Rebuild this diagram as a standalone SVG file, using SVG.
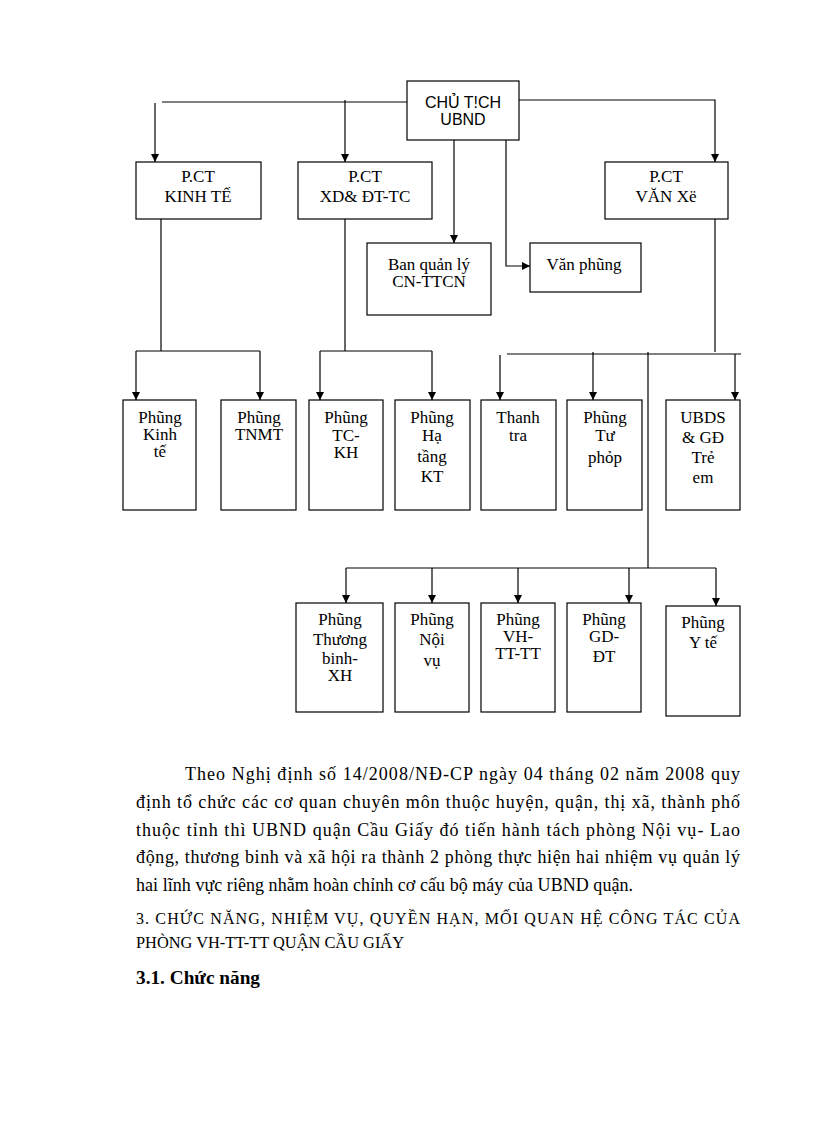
<svg xmlns="http://www.w3.org/2000/svg" width="816" height="1123" viewBox="0 0 816 1123">
<style>
.box{fill:#fff;stroke:#000;stroke-width:1.2}
.t{font-family:"Liberation Serif","Times New Roman",serif;font-size:17px;fill:#000;text-anchor:middle}
.s{font-family:"Liberation Sans",Arial,sans-serif;font-size:16px;fill:#000;text-anchor:middle}
.ln{stroke:#000;stroke-width:1.2;fill:none}
.p{font-family:"Liberation Serif","Times New Roman",serif;font-size:18px;fill:#000}
.h{font-family:"Liberation Serif","Times New Roman",serif;font-size:16px;fill:#000}
</style>
<defs>
<marker id="ar" viewBox="0 0 10 10" refX="10" refY="5" markerWidth="8" markerHeight="8" markerUnits="userSpaceOnUse" orient="auto">
<path d="M0,0 L10,5 L0,10 z" fill="#000"/>
</marker>
</defs>
<rect width="816" height="1123" fill="#fff"/>
<g id="connectors">
<path class="ln" d="M162,102 H407"/>
<path class="ln" d="M155,103 V162" marker-end="url(#ar)"/>
<path class="ln" d="M345,100 V162" marker-end="url(#ar)"/>
<path class="ln" d="M519,100 H715 V162" marker-end="url(#ar)"/>
<path class="ln" d="M454,140 V243" marker-end="url(#ar)"/>
<path class="ln" d="M506,140 V266 H530" marker-end="url(#ar)"/>
<path class="ln" d="M161,219 V351"/>
<path class="ln" d="M136,351 H260"/>
<path class="ln" d="M136,351 V400" marker-end="url(#ar)"/>
<path class="ln" d="M260,351 V400" marker-end="url(#ar)"/>
<path class="ln" d="M345,219 V351"/>
<path class="ln" d="M320,351 H432"/>
<path class="ln" d="M320,351 V400" marker-end="url(#ar)"/>
<path class="ln" d="M432,351 V400" marker-end="url(#ar)"/>
<path class="ln" d="M715,219 V352"/>
<path class="ln" d="M507,354 H741"/>
<path class="ln" d="M500,355 V400" marker-end="url(#ar)"/>
<path class="ln" d="M593,352 V400" marker-end="url(#ar)"/>
<path class="ln" d="M735,354 V400" marker-end="url(#ar)"/>
<path class="ln" d="M648,352 V568"/>
<path class="ln" d="M346,568 H716"/>
<path class="ln" d="M346,568 V603" marker-end="url(#ar)"/>
<path class="ln" d="M432,568 V603" marker-end="url(#ar)"/>
<path class="ln" d="M518,568 V603" marker-end="url(#ar)"/>
<path class="ln" d="M629,568 V603" marker-end="url(#ar)"/>
<path class="ln" d="M716,568 V606" marker-end="url(#ar)"/>
</g>
<g id="chutich"><rect class="box" x="407" y="81" width="112" height="59"/><text class="s" x="463" y="108">CHỦ T!CH</text><text class="s" x="463" y="125">UBND</text></g>
<g id="pct-kinhte"><rect class="box" x="136" y="162" width="125" height="57"/><text class="t" x="198" y="182">P.CT</text><text class="t" x="198" y="202">KINH TẾ</text></g>
<g id="pct-xd"><rect class="box" x="298" y="162" width="134" height="57"/><text class="t" x="365" y="182">P.CT</text><text class="t" x="365" y="202">XD&amp; ĐT-TC</text></g>
<g id="pct-vanxe"><rect class="box" x="605" y="162" width="123" height="57"/><text class="t" x="666" y="182">P.CT</text><text class="t" x="666" y="202">VĂN Xë</text></g>
<g id="banquanly"><rect class="box" x="367" y="243" width="124" height="72"/><text class="t" x="429" y="270">Ban quản lý</text><text class="t" x="429" y="287">CN-TTCN</text></g>
<g id="vanphung"><rect class="box" x="530" y="243" width="111" height="49"/><text class="t" x="584" y="270">Văn phũng</text></g>
<g id="kinhte"><rect class="box" x="123" y="400" width="73" height="110"/><text class="t" x="160" y="423">Phũng</text><text class="t" x="160" y="440">Kinh</text><text class="t" x="160" y="457">tế</text></g>
<g id="tnmt"><rect class="box" x="221" y="400" width="75" height="110"/><text class="t" x="259" y="423">Phũng</text><text class="t" x="259" y="440">TNMT</text></g>
<g id="tckh"><rect class="box" x="309" y="400" width="74" height="110"/><text class="t" x="346" y="423">Phũng</text><text class="t" x="346" y="441">TC-</text><text class="t" x="346" y="458">KH</text></g>
<g id="hatang"><rect class="box" x="395" y="400" width="75" height="110"/><text class="t" x="432" y="423">Phũng</text><text class="t" x="432" y="441">Hạ</text><text class="t" x="432" y="462">tầng</text><text class="t" x="432" y="482">KT</text></g>
<g id="thanhtra"><rect class="box" x="481" y="400" width="75" height="110"/><text class="t" x="518" y="423">Thanh</text><text class="t" x="518" y="441">tra</text></g>
<g id="tuphap"><rect class="box" x="567" y="400" width="75" height="110"/><text class="t" x="605" y="423">Phũng</text><text class="t" x="605" y="441">Tư</text><text class="t" x="605" y="463">phỏp</text></g>
<g id="ubds"><rect class="box" x="666" y="400" width="74" height="110"/><text class="t" x="703" y="423">UBDS</text><text class="t" x="703" y="443">&amp; GĐ</text><text class="t" x="703" y="463">Trẻ</text><text class="t" x="703" y="483">em</text></g>
<g id="thuongbinh"><rect class="box" x="296" y="603" width="87" height="109"/><text class="t" x="340" y="625">Phũng</text><text class="t" x="340" y="645">Thương</text><text class="t" x="340" y="664">binh-</text><text class="t" x="340" y="681">XH</text></g>
<g id="noivu"><rect class="box" x="395" y="603" width="74" height="109"/><text class="t" x="432" y="625">Phũng</text><text class="t" x="432" y="645">Nội</text><text class="t" x="432" y="666">vụ</text></g>
<g id="vhtttt"><rect class="box" x="481" y="603" width="74" height="109"/><text class="t" x="518" y="625">Phũng</text><text class="t" x="518" y="642">VH-</text><text class="t" x="518" y="659">TT-TT</text></g>
<g id="gddt"><rect class="box" x="567" y="603" width="74" height="109"/><text class="t" x="604" y="625">Phũng</text><text class="t" x="604" y="642">GD-</text><text class="t" x="604" y="662">ĐT</text></g>
<g id="yte"><rect class="box" x="666" y="606" width="74" height="110"/><text class="t" x="703" y="628">Phũng</text><text class="t" x="703" y="648">Y tế</text></g>
<g id="text">
<text class="p" x="185" y="780" textLength="555" lengthAdjust="spacing">Theo Nghị  định số 14/2008/NĐ-CP ngày 04 tháng 02  năm 2008 quy</text>
<text class="p" x="136" y="808" textLength="604" lengthAdjust="spacing">định tổ chức các cơ quan chuyên môn thuộc huyện, quận, thị xã, thành phố</text>
<text class="p" x="136" y="836" textLength="604" lengthAdjust="spacing">thuộc tỉnh thì  UBND quận Cầu Giấy đó tiến hành tách phòng Nội vụ- Lao</text>
<text class="p" x="136" y="863" textLength="604" lengthAdjust="spacing">động, thương binh và xã hội ra thành 2 phòng thực hiện hai nhiệm vụ quản lý</text>
<text class="p" x="136" y="891" textLength="497" lengthAdjust="spacing">hai lĩnh vực riêng nhằm hoàn chỉnh cơ cấu bộ máy của UBND  quận.</text>
<text class="h" x="136" y="924" textLength="604" lengthAdjust="spacing">3. CHỨC NĂNG, NHIỆM VỤ, QUYỀN HẠN, MỐI QUAN HỆ CÔNG TÁC CỦA</text>
<text class="h" x="136" y="948" textLength="268" lengthAdjust="spacingAndGlyphs">PHÒNG VH-TT-TT QUẬN CẦU GIẤY</text>
<text class="p" x="136" y="984" font-weight="bold" textLength="124" lengthAdjust="spacingAndGlyphs">3.1. Chức năng</text>
</g>
</svg>
